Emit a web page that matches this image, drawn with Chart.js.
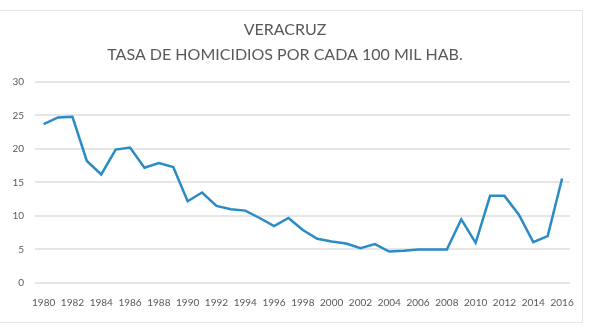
<!DOCTYPE html>
<html>
<head>
<meta charset="utf-8">
<script src="https://cdn.jsdelivr.net/npm/chart.js@4/dist/chart.umd.min.js"></script>
<style>
html,body{margin:0;padding:0;background:#fff;}
#wrap{width:589px;height:333px;position:relative;}
</style>
</head>
<body>
<div id="wrap"><canvas id="c" width="589" height="333"></canvas></div>
<script>
const titleLines = ['VERACRUZ', 'TASA DE HOMICIDIOS POR CADA 100 MIL HAB.'];
const years = [1980,1981,1982,1983,1984,1985,1986,1987,1988,1989,1990,1991,1992,1993,1994,1995,1996,1997,1998,1999,2000,2001,2002,2003,2004,2005,2006,2007,2008,2009,2010,2011,2012,2013,2014,2015,2016];
const rates = [23.7,24.7,24.8,18.2,16.2,19.9,20.2,17.2,17.9,17.3,12.2,13.5,11.5,11.0,10.8,9.7,8.5,9.7,7.9,6.6,6.2,5.9,5.2,5.8,4.7,4.8,5.0,5.0,5.0,9.5,6.0,13.0,13.0,10.2,6.1,7.0,15.6];
const xTickYears = [1980,1982,1984,1986,1988,1990,1992,1994,1996,1998,2000,2002,2004,2006,2008,2010,2012,2014,2016];
const yTicks = [0,5,10,15,20,25,30];

const frame = {
  id:'frame',
  beforeDraw(chart){
    const ctx = chart.ctx;
    ctx.save();
    ctx.fillStyle = '#fff';
    ctx.fillRect(0,0,chart.width,chart.height);
    ctx.strokeStyle = '#e6e6e6';
    ctx.lineWidth = 1;
    ctx.strokeRect(-1.5, 10.5, 584, 312);
    ctx.restore();
  }
};

new Chart(document.getElementById('c'), {
  type:'line',
  data:{
    datasets:[{
      data: years.map((y,i)=>({x:y, y:rates[i]})),
      borderColor:'#2a8bc6',
      borderWidth:2.5,
      pointRadius:0,
      tension:0,
      fill:false
    }]
  },
  options:{
    responsive:false,
    animation:false,
    layout:{padding:{left:0,right:19,top:0,bottom:18}},
    plugins:{
      legend:{display:false},
      tooltip:{enabled:false},
      title:{
        display:true,
        text:titleLines,
        color:'#595959',
        font:{family:'Lato', size:16, weight:'normal', lineHeight:1.56},
        padding:{top:17, bottom:15}
      }
    },
    scales:{
      x:{
        type:'linear',
        min:1979.4,
        max:2016.55,
        afterBuildTicks(s){ s.ticks = xTickYears.map(v=>({value:v})); },
        ticks:{
          callback:(v)=>String(v),
          autoSkip:false,
          maxRotation:0,
          color:'#595959',
          font:{family:'Lato', size:10},
          padding:6
        },
        grid:{display:false},
        border:{display:false}
      },
      y:{
        min:0,
        max:30,
        afterBuildTicks(s){ s.ticks = yTicks.map(v=>({value:v})); },
        afterFit(s){ s.width = 35; },
        ticks:{
          color:'#595959',
          font:{family:'Lato', size:10},
          padding:11
        },
        grid:{color:'#e6e6e6', lineWidth:2, drawTicks:false},
        border:{display:false}
      }
    }
  },
  plugins:[frame]
});
</script>
</body>
</html>
